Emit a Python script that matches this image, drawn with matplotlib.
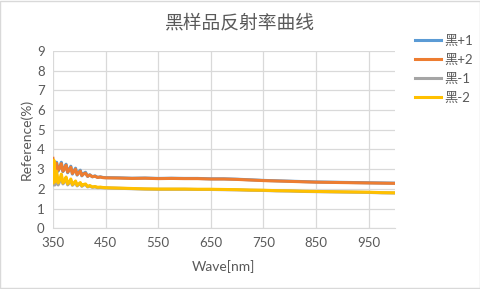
import matplotlib
matplotlib.use("Agg")
from matplotlib import pyplot as plt
from matplotlib.patches import Rectangle

plt.rcParams['font.family'] = ['Lato', 'Noto Sans CJK SC', 'DejaVu Sans']

# wavelength (nm)
wave = [350, 352, 354, 357, 360, 363, 366, 369, 372, 375, 378, 381, 384, 387, 390,
        393, 396, 399, 402, 405, 408, 412, 416, 420, 425, 430, 435, 440, 445, 450,
        475, 500, 525, 550, 575, 600, 625, 650, 675, 700, 725, 750, 775, 800, 825,
        850, 875, 900, 925, 950, 975, 1000]

black_p1 = [3.45, 2.55, 3.05, 3.35, 2.9, 3.1, 3.35, 2.88, 3.05, 3.25, 2.82, 3.0, 3.15, 2.75, 2.92,
            3.05, 2.7, 2.84, 2.95, 2.66, 2.78, 2.84, 2.63, 2.72, 2.61, 2.66, 2.58, 2.61, 2.58, 2.57,
            2.56, 2.54, 2.55, 2.53, 2.54, 2.53, 2.53, 2.51, 2.51, 2.49, 2.46, 2.43, 2.41, 2.39, 2.37,
            2.35, 2.34, 2.33, 2.32, 2.31, 2.3, 2.29]

black_p2 = [3.55, 2.7, 3.0, 3.3, 2.95, 3.05, 3.28, 2.9, 3.0, 3.2, 2.85, 2.95, 3.1, 2.78, 2.88,
            3.0, 2.72, 2.8, 2.9, 2.68, 2.75, 2.8, 2.64, 2.7, 2.62, 2.64, 2.58, 2.6, 2.57, 2.56,
            2.55, 2.53, 2.54, 2.52, 2.53, 2.52, 2.52, 2.5, 2.5, 2.48, 2.45, 2.42, 2.4, 2.38, 2.36,
            2.34, 2.33, 2.32, 2.31, 2.3, 2.29, 2.28]

black_m1 = [2.2, 3.3, 2.2, 2.75, 2.2, 2.38, 2.65, 2.25, 2.35, 2.52, 2.2, 2.3, 2.44, 2.18, 2.26,
            2.35, 2.15, 2.22, 2.28, 2.13, 2.19, 2.22, 2.1, 2.14, 2.08, 2.1, 2.06, 2.07, 2.06, 2.05,
            2.03, 2.01, 1.99, 1.98, 1.98, 1.98, 1.97, 1.97, 1.96, 1.95, 1.93, 1.92, 1.9, 1.89, 1.87,
            1.86, 1.85, 1.84, 1.83, 1.82, 1.8, 1.79]

black_m2 = [2.3, 3.45, 2.35, 2.9, 2.3, 2.45, 2.75, 2.3, 2.4, 2.6, 2.25, 2.35, 2.5, 2.22, 2.3,
            2.4, 2.18, 2.25, 2.32, 2.16, 2.22, 2.25, 2.12, 2.17, 2.1, 2.12, 2.08, 2.09, 2.07, 2.06,
            2.04, 2.02, 2.0, 1.99, 1.99, 1.99, 1.98, 1.98, 1.97, 1.96, 1.94, 1.93, 1.91, 1.9, 1.88,
            1.87, 1.86, 1.85, 1.84, 1.83, 1.81, 1.8]

labels = ['黑+1', '黑+2', '黑-1', '黑-2']
colors = ['#5B9BD5', '#ED7D31', '#A5A5A5', '#FFC000']
text_color = '#595959'

fig = plt.figure(figsize=(4.81, 2.89), dpi=100)
ax = fig.add_axes([0.110, 0.210, 0.711, 0.614])

for y, lab, c in zip([black_p1, black_p2, black_m1, black_m2], labels, colors):
    ax.plot(wave, y, color=c, linewidth=2.2, label=lab)

ax.set_xlim(350, 1000)
ax.set_ylim(0, 9)
ax.set_xticks(range(350, 1000, 100))
ax.set_yticks(range(0, 10))
ax.grid(True, color='#D9D9D9', linewidth=0.9)
ax.set_axisbelow(True)
for s in ['top', 'right', 'left']:
    ax.spines[s].set_visible(False)
ax.spines['bottom'].set_color('#D9D9D9')
ax.tick_params(length=0, labelsize=9.5, colors=text_color, pad=6)

ax.set_xlabel('Wave[nm]', fontsize=10, color=text_color, labelpad=8)
ax.set_ylabel('Reference(%)', fontsize=10, color=text_color, labelpad=3)
fig.suptitle('黑样品反射率曲线', x=0.499, y=0.958, fontsize=13.5,
             color=text_color, family=['Noto Sans CJK SC'])

fig.legend(loc='upper left', bbox_to_anchor=(0.862, 0.879), frameon=False,
           fontsize=9.5, handlelength=2.0, labelspacing=0.52, handletextpad=0.25,
           borderpad=0, borderaxespad=0, labelcolor=text_color)

fig.patches.append(Rectangle((0.001, 0.002), 0.997, 0.995, transform=fig.transFigure,
                             fill=False, edgecolor='#D9D9D9', linewidth=1))

fig.savefig('out.png', dpi=100)
